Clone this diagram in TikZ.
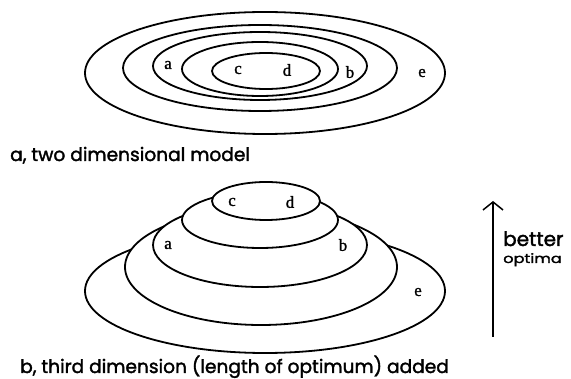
\documentclass[tikz,border=0pt]{standalone}
\usepackage{fontspec}
\setmainfont{Liberation Serif}[FakeBold=1.2]
\newfontfamily\capfont{Poppins}[FakeBold=1.8]
\usetikzlibrary{arrows.meta}
\tikzset{
  ring/.style={draw=black, line width=1.8pt, fill=white},
  lbl/.style={font=\fontsize{17}{17}\selectfont, inner sep=0pt},
  captxt/.style={font=\capfont\fontsize{18.6}{18.6}\selectfont, inner sep=0pt, anchor=base west},
}
\begin{document}
\begin{tikzpicture}[x=1pt,y=-1pt]
\useasboundingbox (0,0) rectangle (571,379);
% top: two dimensional model
\draw[ring] (265,73) ellipse [x radius=180pt, y radius=61pt];
\draw[ring] (260,68) ellipse [x radius=137pt, y radius=43pt];
\draw[ring] (260,66) ellipse [x radius=107pt, y radius=34pt];
\draw[ring] (260,69) ellipse [x radius=78pt, y radius=27pt];
\draw[ring] (266,71) ellipse [x radius=54pt, y radius=18pt];
\node[lbl] (ta) at (168,65) {a};
\node[lbl] (tc) at (238,70) {c};
\node[lbl] (td) at (287,70) {d};
\node[lbl] (tb) at (350,72) {b};
\node[lbl] (te) at (422,73) {e};
\node[captxt] (capa) at (10,161) {a, two dimensional model};
% bottom: third dimension
\draw[ring] (265,291) ellipse [x radius=180pt, y radius=62pt];
\draw[ring] (261,267) ellipse [x radius=136pt, y radius=58pt];
\draw[ring] (260,245) ellipse [x radius=107pt, y radius=42pt];
\draw[ring] (260,220) ellipse [x radius=78pt, y radius=28pt];
\draw[ring] (266,201) ellipse [x radius=54pt, y radius=19pt];
\node[lbl] (bc) at (232,202) {c};
\node[lbl] (bd) at (290,202) {d};
\node[lbl] (ba) at (168,245) {a};
\node[lbl] (bb) at (343,245) {b};
\node[lbl] (be) at (418,292) {e};
\node[captxt] (capb) at (20,373) {b, third dimension (length of optimum) added};
% arrow
\coordinate (arrlo) at (493,337);
\coordinate (arrhi) at (493,201);
\draw[line width=1.5pt, -{Straight Barb[length=8pt,width=20pt]}] (arrlo) -- (arrhi);
\node[font=\capfont\fontsize{20}{20}\selectfont, inner sep=0pt, anchor=base west] (better) at (503,246) {better};
\node[font=\capfont\fontsize{13}{13}\selectfont, inner sep=0pt, anchor=base west, xscale=1.24, transform shape] (optima) at (503,263) {optima};
\end{tikzpicture}
\end{document}
